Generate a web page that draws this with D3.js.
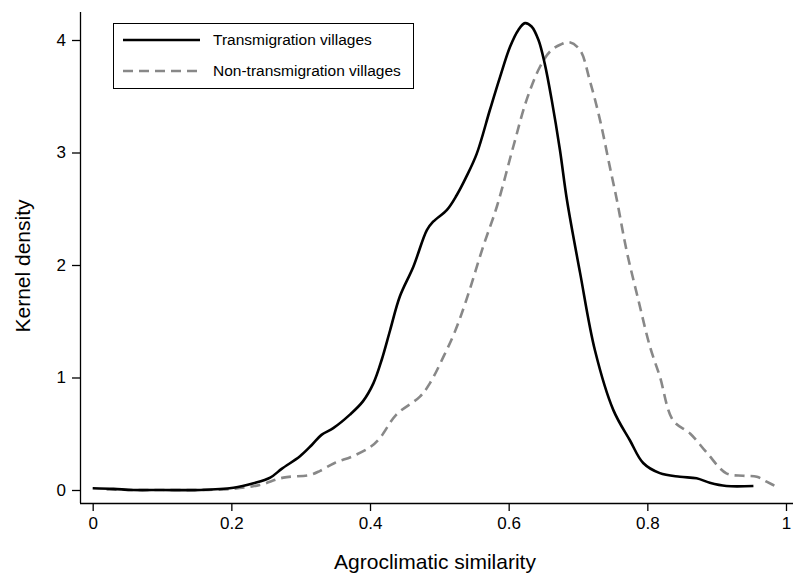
<!DOCTYPE html>
<html>
<head>
<meta charset="utf-8">
<script src="https://cdn.jsdelivr.net/npm/d3@7"></script>
<style>
  body { margin: 0; background: #fff; }
  svg { display: block; font-family: "Liberation Sans", Arial, sans-serif; }
</style>
</head>
<body>
<svg id="chart" width="795" height="575"></svg>
<script>
'use strict';

// agroclimatic similarity (x) / kernel density (y)
const transX = [0, 0.03, 0.058, 0.1, 0.155, 0.203, 0.232, 0.256, 0.273, 0.299, 0.316, 0.33, 0.347, 0.371, 0.39, 0.405, 0.417, 0.429, 0.443, 0.4625, 0.482, 0.491, 0.511, 0.525, 0.539, 0.554, 0.573, 0.5875, 0.602, 0.614, 0.6235, 0.633, 0.643, 0.652, 0.662, 0.674, 0.684, 0.703, 0.7245, 0.751, 0.775, 0.794, 0.818, 0.847, 0.871, 0.89, 0.914, 0.953];
const transY = [0.015, 0.01, 0, 0, 0, 0.02, 0.06, 0.11, 0.19, 0.3, 0.4, 0.49, 0.55, 0.67, 0.79, 0.95, 1.16, 1.42, 1.72, 1.985, 2.31, 2.385, 2.49, 2.62, 2.785, 2.99, 3.38, 3.67, 3.94, 4.09, 4.15, 4.12, 4.0, 3.79, 3.47, 3.02, 2.58, 1.93, 1.24, 0.71, 0.44, 0.24, 0.15, 0.118, 0.104, 0.065, 0.036, 0.036];

const nonX = [0.02, 0.06, 0.1, 0.15, 0.2, 0.241, 0.275, 0.313, 0.328, 0.349, 0.375, 0.4, 0.414, 0.438, 0.472, 0.4865, 0.506, 0.5226, 0.539, 0.563, 0.583, 0.607, 0.626, 0.645, 0.66, 0.675, 0.688, 0.703, 0.717, 0.7317, 0.746, 0.756, 0.77, 0.787, 0.804, 0.818, 0.837, 0.862, 0.886, 0.914, 0.938, 0.958, 0.972, 0.991];
const nonY = [0.005, 0, 0, 0, 0.01, 0.045, 0.11, 0.133, 0.17, 0.24, 0.3, 0.38, 0.46, 0.67, 0.83, 0.95, 1.185, 1.41, 1.69, 2.16, 2.52, 3.06, 3.47, 3.76, 3.9, 3.96, 3.98, 3.91, 3.64, 3.29, 2.87, 2.58, 2.13, 1.69, 1.27, 1.01, 0.62, 0.5, 0.33, 0.148, 0.127, 0.118, 0.074, 0.015];

const xTicks = [0, 0.2, 0.4, 0.6, 0.8, 1];
const yTicks = [0, 1, 2, 3, 4];
const seriesNames = ['Transmigration villages', 'Non-transmigration villages'];

const svg = d3.select('#chart');

// scales, domains padded so the axis lines run past the first/last tick
const x = d3.scaleLinear().domain([-0.0183, 1.0101]).range([80, 793]);
const y = d3.scaleLinear().domain([-0.1156, 4.2489]).range([503, 12]);

const xAxis = svg.append('g')
  .attr('transform', 'translate(0,503)')
  .call(d3.axisBottom(x).tickValues(xTicks).tickSize(8).tickPadding(6)
    .tickFormat((d) => String(d)));

const yAxis = svg.append('g')
  .attr('transform', 'translate(80,0)')
  .call(d3.axisLeft(y).tickValues(yTicks).tickSize(8).tickPadding(6)
    .tickFormat((d) => String(d)));

[xAxis, yAxis].forEach((g) => {
  g.select('.domain').attr('stroke', '#000').attr('stroke-width', 1.3)
    .attr('d', g === xAxis ? 'M80,0.5H793' : 'M0.5,12V503');
  g.selectAll('.tick line').attr('stroke', '#000').attr('stroke-width', 1.3);
  g.selectAll('.tick text').attr('fill', '#000').style('font-size', '17px')
    .style('font-family', '"Liberation Sans", Arial, sans-serif');
});

svg.append('text')
  .attr('x', 435).attr('y', 569)
  .attr('text-anchor', 'middle')
  .style('font-size', '21px')
  .text('Agroclimatic similarity');

svg.append('text')
  .attr('transform', 'translate(30,266) rotate(-90)')
  .attr('text-anchor', 'middle')
  .style('font-size', '21px')
  .text('Kernel density');

const line = d3.line()
  .x((d) => x(d[0]))
  .y((d) => y(d[1]))
  .curve(d3.curveCatmullRom.alpha(0.5));

svg.append('path')
  .datum(nonX.map((v, i) => [v, nonY[i]]))
  .attr('d', line)
  .attr('fill', 'none')
  .attr('stroke', '#888')
  .attr('stroke-width', 2.6)
  .attr('stroke-dasharray', '10,6');

svg.append('path')
  .datum(transX.map((v, i) => [v, transY[i]]))
  .attr('d', line)
  .attr('fill', 'none')
  .attr('stroke', '#000')
  .attr('stroke-width', 2.6);

// legend
const legend = svg.append('g');
legend.append('rect')
  .attr('x', 113.5).attr('y', 23.5)
  .attr('width', 300).attr('height', 65)
  .attr('fill', '#fff')
  .attr('stroke', '#000')
  .attr('stroke-width', 1);

seriesNames.forEach((name, i) => {
  const ly = 40 + i * 31;
  legend.append('line')
    .attr('x1', 123).attr('x2', 200)
    .attr('y1', ly).attr('y2', ly)
    .attr('stroke', i === 0 ? '#000' : '#888')
    .attr('stroke-width', 2.6)
    .attr('stroke-dasharray', i === 0 ? null : '10,6');
  legend.append('text')
    .attr('x', 213).attr('y', ly)
    .attr('dy', '0.35em')
    .style('font-size', '15.5px')
    .text(name);
});
</script>
</body>
</html>
